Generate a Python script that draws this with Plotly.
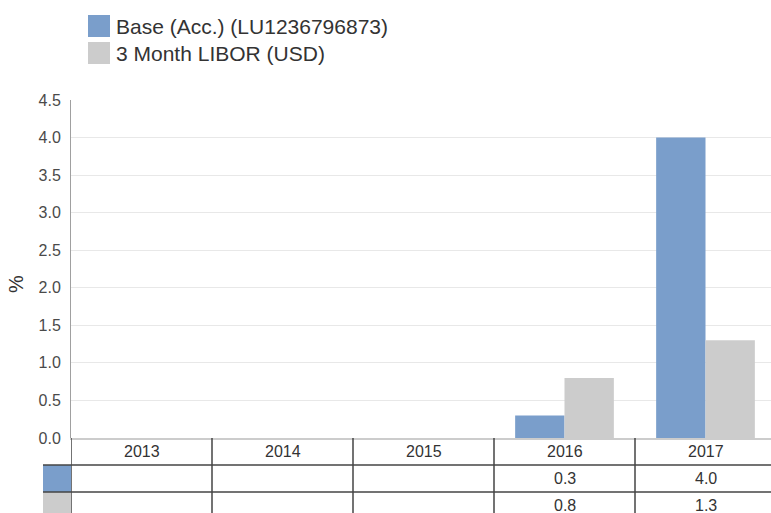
import plotly.graph_objects as go

categories = ["2013", "2014", "2015", "2016", "2017"]
base_values = [None, None, None, 0.3, 4.0]
libor_values = [None, None, None, 0.8, 1.3]
series_names = ["Base (Acc.) (LU1236796873)", "3 Month LIBOR (USD)"]
series_colors = ["#7a9ecb", "#cccccc"]
y_ticks = [0.0, 0.5, 1.0, 1.5, 2.0, 2.5, 3.0, 3.5, 4.0, 4.5]

W, H = 771, 513
L, T, B = 71, 100, 75          # pixel positions of the plot box
PW, PH = W - L, H - T - B
FONT = "Arial, Liberation Sans, sans-serif"
TXT = "#333333"

def px_x(p):  # pixel x -> paper
    return (p - L) / PW

def px_y(p):  # pixel y -> paper
    return (H - B - p) / PH

fig = go.Figure()
for name, vals, col in zip(series_names, [base_values, libor_values], series_colors):
    fig.add_trace(go.Bar(x=categories, y=vals, name=name, marker=dict(color=col, line=dict(width=0)),
                         showlegend=False, hoverinfo="x+y"))

shapes = []
annotations = []

# manual legend
for i, (name, col) in enumerate(zip(series_names, series_colors)):
    top = 15 + i * 27
    shapes.append(dict(type="rect", xref="paper", yref="paper", x0=px_x(88), x1=px_x(110),
                       y0=px_y(top), y1=px_y(top + 22), fillcolor=col, line=dict(width=0)))
    annotations.append(dict(xref="paper", yref="paper", x=px_x(114), y=px_y(top + 11), text=name,
                            showarrow=False, xanchor="left", yanchor="middle",
                            font=dict(family=FONT, size=21, color=TXT)))

# y axis title
annotations.append(dict(xref="paper", yref="paper", x=px_x(16), y=px_y(284), text="%", textangle=-90,
                        showarrow=False, xanchor="center", yanchor="middle", borderpad=0,
                        font=dict(family=FONT, size=20, color=TXT)))

# data table
row_h = 27
header_mid = 438 + row_h / 2
for i, c in enumerate(categories):
    annotations.append(dict(xref="x", yref="paper", x=i, y=px_y(header_mid), text=c, showarrow=False,
                            xanchor="center", yanchor="middle",
                            font=dict(family=FONT, size=16, color=TXT)))
for r, (vals, col) in enumerate(zip([base_values, libor_values], series_colors)):
    top = 438 + row_h * (r + 1)
    shapes.append(dict(type="rect", xref="paper", yref="paper", x0=px_x(43), x1=px_x(71),
                       y0=px_y(top), y1=px_y(top + row_h), fillcolor=col, line=dict(width=0)))
    for i, v in enumerate(vals):
        if v is not None:
            annotations.append(dict(xref="x", yref="paper", x=i, y=px_y(top + row_h / 2),
                                    text=f"{v:.1f}", showarrow=False, xanchor="center", yanchor="middle",
                                    font=dict(family=FONT, size=16, color=TXT)))
    shapes.append(dict(type="line", xref="paper", yref="paper", x0=px_x(43), x1=1.0,
                       y0=px_y(top), y1=px_y(top), line=dict(color="#444444", width=1.5)))
# vertical table lines
for k in range(len(categories) + 1):
    shapes.append(dict(type="line", xref="x", yref="paper", x0=k - 0.5, x1=k - 0.5,
                       y0=0, y1=px_y(H + 5), line=dict(color="#444444", width=1.5)))

fig.update_layout(
    width=W, height=H,
    margin=dict(l=L, r=0, t=T, b=B, pad=0),
    paper_bgcolor="white", plot_bgcolor="white",
    barmode="group", bargap=0.3, bargroupgap=0.0,
    font=dict(family=FONT, size=16, color="#444444"),
    shapes=shapes, annotations=annotations,
    xaxis=dict(type="category", range=[-0.5, -0.5 + PW / 141.0], showticklabels=False, ticks="",
               showgrid=False, showline=True, linecolor="#cccccc", linewidth=2, zeroline=False,
               fixedrange=True),
    yaxis=dict(range=[0, 4.5], tickvals=y_ticks, ticktext=[f"{t:.1f}" for t in y_ticks],
               showgrid=True, gridcolor="#e8e8e8", gridwidth=1, showline=True, linecolor="#a0a0a0",
               linewidth=1, zeroline=False, ticks="", ticklabelstandoff=6,
               tickfont=dict(family=FONT, size=16, color="#4a4a4a"), fixedrange=True),
)

# remove the browser's default 8px body margin so the figure fills the window exactly
fig.write_html("out.html", config={"displayModeBar": False},
               post_script="document.body.style.margin='0';document.body.style.overflow='hidden';")
